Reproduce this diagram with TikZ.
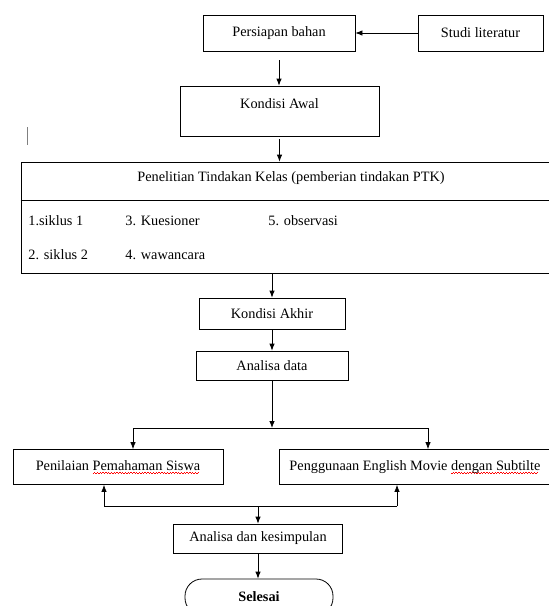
\documentclass[tikz,border=0pt]{standalone}
\usepackage{fontspec}
\setmainfont{Liberation Serif}
\usetikzlibrary{arrows.meta}
\newcommand\spellwave[1]{\setbox0=\hbox{#1}\rlap{\color{red}\lower3.8pt\hbox to\wd0{\leaders\hbox{\vrule width1.4pt height0.4pt depth0.1pt\raise1pt\hbox{\vrule width1.4pt height0.4pt depth0.1pt}}\hfill}}\box0}
\begin{document}
\begin{tikzpicture}[x=1pt, y=-1pt, line width=0.8pt, >={Latex[length=7pt,width=5.5pt]},
		font=\fontsize{14.3}{17}\selectfont,
		box/.style={draw, rectangle, inner sep=0pt}]
		\useasboundingbox (0,0) rectangle (549,606);
		\clip (0,0) rectangle (549,606);
		
		%top row
		\node[box, minimum width=152, minimum height=36] (persiapan) at (279,33) {Persiapan bahan};
		\node[box, minimum width=125, minimum height=36] (studi) at (480.5,33) {Studi literatur};
		\draw[->] (studi) -- (persiapan);
		
		\node[box, minimum width=199, text height=22pt, text depth=28pt] (awal) at (279.5,111) {Kondisi Awal};
		\draw[->] ([yshift=-9pt]persiapan.south) -- (persiapan.south |- awal.north);
		\draw[very thin, gray] (27,127) -- (27,145);
		
		%PTK table
		\node[box, minimum width=539, minimum height=111] (ptk) at (290.5,217.5) {};
		\draw (ptk.west |- 0,200) -- (ptk.east |- 0,200);
		\node (judul) at (291,178) {Penelitian Tindakan Kelas (pemberian tindakan PTK)};
		\node[anchor=west, inner sep=0pt] (s1) at (28,221) {1.siklus 1};
		\node[anchor=west, inner sep=0pt] (kues) at (125,221) {3. Kuesioner};
		\node[anchor=west, inner sep=0pt] (obs) at (268,221) {5. observasi};
		\node[anchor=west, inner sep=0pt] (s2) at (28,255) {2. siklus 2};
		\node[anchor=west, inner sep=0pt] (waw) at (125,255) {4. wawancara};
		\draw[->] ([yshift=-3pt]awal.south) -- (awal.south |- ptk.north);
		
		\node[box, minimum width=146, minimum height=31] (akhir) at (272,313.5) {Kondisi Akhir};
		\node[box, minimum width=152, minimum height=29] (data) at (272,365.5) {Analisa data};
		\draw[->] (ptk.south -| akhir.north) -- (akhir.north);
		\draw[->] (akhir) -- (data);
		
		%split
		\coordinate (atas) at (272,428);
		\coordinate (kiri) at (133,428);
		\coordinate (kanan) at (428,428);
		\draw[->] (data) -- (atas);
		\draw (kiri) -- (kanan);
		
		\node[box, minimum width=210, minimum height=35] (nilai) at (118,467) {Penilaian \spellwave{Pemahaman Siswa}};
		\node[box, minimum width=272, minimum height=35] (movie) at (415,467) {Penggunaan English Movie \spellwave{dengan Subtilte}};
		\draw[->] (kiri) -- (kiri |- nilai.north);
		\draw[->] (kanan) -- (kanan |- movie.north);
		
		%join
		\coordinate (bkiri) at (104,506);
		\coordinate (bkanan) at (397,506);
		\coordinate (bawah) at (258,506);
		\draw (bkiri) -- (bkanan);
		\draw[->] (bkiri) -- (bkiri |- nilai.south);
		\draw[->] (bkanan) -- (bkanan |- movie.south);
		
		\node[box, minimum width=169, minimum height=29] (kesimpulan) at (258,538.5) {Analisa dan kesimpulan};
		\draw[->] (bawah) -- (kesimpulan.north);
		\node[draw, rounded corners=17pt, minimum width=148, minimum height=36, inner sep=0pt, font=\fontsize{14.3}{17}\selectfont\bfseries] (selesai) at (259,597) {Selesai};
		\draw[->] (kesimpulan.south) -- (kesimpulan.south |- selesai.north);
\end{tikzpicture}
\end{document}
